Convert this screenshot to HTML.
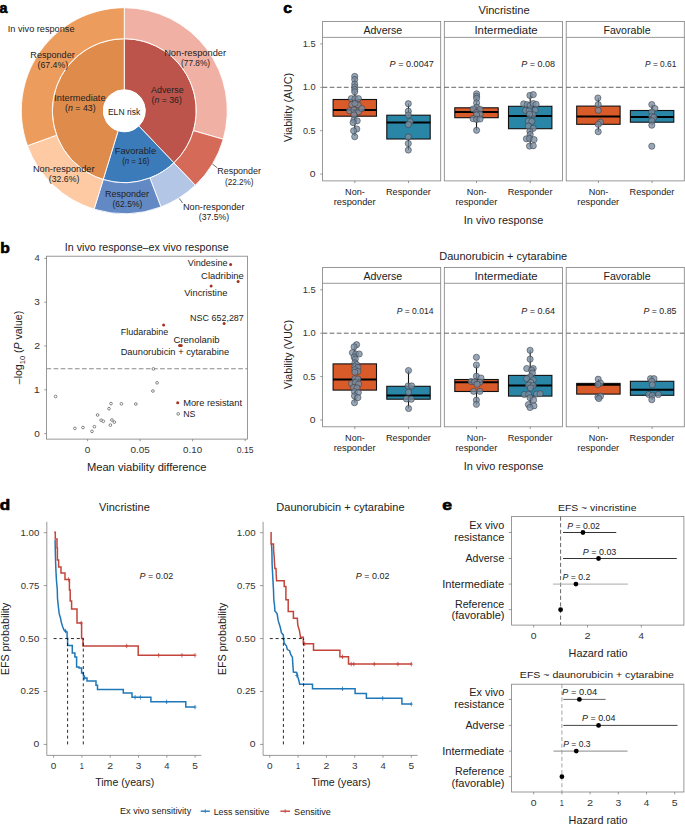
<!DOCTYPE html>
<html><head><meta charset="utf-8"><style>
html,body{margin:0;padding:0;background:#fff;overflow:hidden;width:685px;height:826px;}
svg{display:block;font-family:"Liberation Sans",sans-serif;}
</style></head><body>
<svg width="685" height="826" viewBox="0 0 685 826" fill="#222">
<path d="M124.30,38.70 A72,72 0 0 1 173.93,162.86 L138.78,125.91 A21,21 0 0 0 124.30,89.70 Z" fill="#bd544b" stroke="#fff" stroke-width="0.9" stroke-linejoin="round"/>
<path d="M173.93,162.86 A72,72 0 0 1 103.19,179.53 L118.14,130.78 A21,21 0 0 0 138.78,125.91 Z" fill="#3b7bb9" stroke="#fff" stroke-width="0.9" stroke-linejoin="round"/>
<path d="M103.19,179.53 A72,72 0 0 1 124.30,38.70 L124.30,89.70 A21,21 0 0 0 118.14,130.78 Z" fill="#df8b4b" stroke="#fff" stroke-width="0.9" stroke-linejoin="round"/>
<path d="M124.30,7.70 A103,103 0 0 1 223.26,139.27 L193.47,130.67 A72,72 0 0 0 124.30,38.70 Z" fill="#f0b1a4" stroke="#fff" stroke-width="0.9" stroke-linejoin="round"/>
<path d="M223.26,139.27 A103,103 0 0 1 195.30,185.32 L173.93,162.86 A72,72 0 0 0 193.47,130.67 Z" fill="#d46a57" stroke="#fff" stroke-width="0.9" stroke-linejoin="round"/>
<path d="M195.30,185.32 A103,103 0 0 1 160.95,206.96 L149.92,177.99 A72,72 0 0 0 173.93,162.86 Z" fill="#b3c6e6" stroke="#fff" stroke-width="0.9" stroke-linejoin="round"/>
<path d="M160.95,206.96 A103,103 0 0 1 94.10,209.17 L103.19,179.53 A72,72 0 0 0 149.92,177.99 Z" fill="#6389c5" stroke="#fff" stroke-width="0.9" stroke-linejoin="round"/>
<path d="M94.10,209.17 A103,103 0 0 1 27.45,145.75 L56.60,135.20 A72,72 0 0 0 103.19,179.53 Z" fill="#fdcaa3" stroke="#fff" stroke-width="0.9" stroke-linejoin="round"/>
<path d="M27.45,145.75 A103,103 0 0 1 124.30,7.70 L124.30,38.70 A72,72 0 0 0 56.60,135.20 Z" fill="#ec9d5e" stroke="#fff" stroke-width="0.9" stroke-linejoin="round"/>
<circle cx="124.3" cy="110.7" r="21" fill="#fff"/>
<text x="-0.43" y="13.00" font-size="14.5" textLength="8.00" lengthAdjust="spacingAndGlyphs" fill="#000" font-weight="bold" stroke="#000" stroke-width="0.6" stroke-linejoin="round">a</text>
<text x="7.78" y="31.90" font-size="9.2" textLength="66.71" lengthAdjust="spacingAndGlyphs">In vivo response</text>
<text x="30.38" y="58.00" font-size="8.4" textLength="44.34" lengthAdjust="spacingAndGlyphs">Responder</text>
<text x="37.58" y="68.00" font-size="8.4" textLength="30.56" lengthAdjust="spacingAndGlyphs">(67.4%)</text>
<text x="164.16" y="55.80" font-size="8.4" textLength="61.94" lengthAdjust="spacingAndGlyphs">Non-responder</text>
<text x="181.10" y="65.90" font-size="8.4" textLength="29.01" lengthAdjust="spacingAndGlyphs">(77.8%)</text>
<text x="54.27" y="101.30" font-size="8.4" textLength="51.29" lengthAdjust="spacingAndGlyphs">Intermediate</text>
<text x="65.07" y="111.30" font-size="8.4" textLength="30.59" lengthAdjust="spacingAndGlyphs">(<tspan font-style="italic">n</tspan> = 43)</text>
<text x="151.00" y="93.00" font-size="8.4" textLength="32.69" lengthAdjust="spacingAndGlyphs">Adverse</text>
<text x="151.58" y="103.00" font-size="8.4" textLength="30.28" lengthAdjust="spacingAndGlyphs">(<tspan font-style="italic">n</tspan> = 36)</text>
<text x="107.91" y="114.50" font-size="8.4" textLength="32.37" lengthAdjust="spacingAndGlyphs">ELN risk</text>
<text x="114.76" y="154.20" font-size="8.4" textLength="41.33" lengthAdjust="spacingAndGlyphs">Favorable</text>
<text x="122.13" y="164.10" font-size="8.4" textLength="27.38" lengthAdjust="spacingAndGlyphs">(<tspan font-style="italic">n</tspan> = 16)</text>
<text x="32.96" y="171.70" font-size="8.4" textLength="61.54" lengthAdjust="spacingAndGlyphs">Non-responder</text>
<text x="48.88" y="181.60" font-size="8.4" textLength="30.46" lengthAdjust="spacingAndGlyphs">(32.6%)</text>
<text x="105.08" y="196.90" font-size="8.4" textLength="44.03" lengthAdjust="spacingAndGlyphs">Responder</text>
<text x="112.49" y="207.00" font-size="8.4" textLength="29.84" lengthAdjust="spacingAndGlyphs">(62.5%)</text>
<text x="217.28" y="173.90" font-size="8.4" textLength="43.72" lengthAdjust="spacingAndGlyphs">Responder</text>
<text x="225.01" y="184.60" font-size="8.4" textLength="28.59" lengthAdjust="spacingAndGlyphs">(22.2%)</text>
<text x="182.96" y="209.90" font-size="8.4" textLength="61.54" lengthAdjust="spacingAndGlyphs">Non-responder</text>
<text x="198.88" y="220.40" font-size="8.4" textLength="30.25" lengthAdjust="spacingAndGlyphs">(37.5%)</text>
<line x1="212.30" y1="163.90" x2="217.20" y2="167.80" stroke="#333" stroke-width="0.7"/>
<line x1="179.20" y1="198.40" x2="182.60" y2="203.00" stroke="#333" stroke-width="0.7"/>
<text x="0.18" y="252.70" font-size="14.5" textLength="9.56" lengthAdjust="spacingAndGlyphs" fill="#000" font-weight="bold" stroke="#000" stroke-width="0.6" stroke-linejoin="round">b</text>
<text x="64.84" y="251.10" font-size="10" textLength="163.81" lengthAdjust="spacingAndGlyphs">In vivo response–ex vivo response</text>
<rect x="46.50" y="256.20" width="201.00" height="182.90" fill="none" stroke="#7f7f7f" stroke-width="0.8"/>
<line x1="44.30" y1="433.60" x2="46.50" y2="433.60" stroke="#7f7f7f" stroke-width="0.8"/>
<text x="34.30" y="436.60" font-size="8.6" textLength="5.56" lengthAdjust="spacingAndGlyphs" fill="#333">0</text>
<line x1="44.30" y1="389.80" x2="46.50" y2="389.80" stroke="#7f7f7f" stroke-width="0.8"/>
<text x="33.87" y="392.80" font-size="8.6" textLength="6.14" lengthAdjust="spacingAndGlyphs" fill="#333">1</text>
<line x1="44.30" y1="346.00" x2="46.50" y2="346.00" stroke="#7f7f7f" stroke-width="0.8"/>
<text x="34.17" y="349.00" font-size="8.6" textLength="5.87" lengthAdjust="spacingAndGlyphs" fill="#333">2</text>
<line x1="44.30" y1="302.20" x2="46.50" y2="302.20" stroke="#7f7f7f" stroke-width="0.8"/>
<text x="34.35" y="305.20" font-size="8.6" textLength="5.56" lengthAdjust="spacingAndGlyphs" fill="#333">3</text>
<line x1="44.30" y1="258.40" x2="46.50" y2="258.40" stroke="#7f7f7f" stroke-width="0.8"/>
<text x="34.51" y="261.40" font-size="8.6" textLength="5.23" lengthAdjust="spacingAndGlyphs" fill="#333">4</text>
<line x1="87.60" y1="439.10" x2="87.60" y2="441.30" stroke="#7f7f7f" stroke-width="0.8"/>
<text x="84.80" y="453.00" font-size="8.6" textLength="5.56" lengthAdjust="spacingAndGlyphs" fill="#333">0</text>
<line x1="140.10" y1="439.10" x2="140.10" y2="441.30" stroke="#7f7f7f" stroke-width="0.8"/>
<text x="130.40" y="453.00" font-size="8.6" textLength="19.41" lengthAdjust="spacingAndGlyphs" fill="#333">0.05</text>
<line x1="192.60" y1="439.10" x2="192.60" y2="441.30" stroke="#7f7f7f" stroke-width="0.8"/>
<text x="183.11" y="453.00" font-size="8.6" textLength="18.94" lengthAdjust="spacingAndGlyphs" fill="#333">0.10</text>
<line x1="245.10" y1="439.10" x2="245.10" y2="441.30" stroke="#7f7f7f" stroke-width="0.8"/>
<text x="236.70" y="453.00" font-size="8.6" textLength="16.80" lengthAdjust="spacingAndGlyphs" fill="#333">0.15</text>
<text x="86.91" y="471.00" font-size="10.5" textLength="119.54" lengthAdjust="spacingAndGlyphs">Mean viability difference</text>
<text x="22.00" y="384.20" font-size="10.4" textLength="73.34" lengthAdjust="spacingAndGlyphs" transform="rotate(-90 22.00 384.20)">–log<tspan font-size="7.49" dy="2.6">10</tspan><tspan dy="-2.6"> (</tspan><tspan font-style="italic">P</tspan> value)</text>
<line x1="46.50" y1="368.80" x2="247.50" y2="368.80" stroke="#8a8a8a" stroke-width="1.1" stroke-dasharray="4.7,2.4"/>
<circle cx="55.6" cy="396.5" r="1.35" fill="#fff" stroke="#555" stroke-width="0.7"/>
<circle cx="74.9" cy="428.4" r="1.35" fill="#fff" stroke="#555" stroke-width="0.7"/>
<circle cx="83" cy="427.5" r="1.35" fill="#fff" stroke="#555" stroke-width="0.7"/>
<circle cx="92" cy="431.4" r="1.35" fill="#fff" stroke="#555" stroke-width="0.7"/>
<circle cx="94.4" cy="426.7" r="1.35" fill="#fff" stroke="#555" stroke-width="0.7"/>
<circle cx="97.6" cy="415" r="1.35" fill="#fff" stroke="#555" stroke-width="0.7"/>
<circle cx="101.1" cy="420.2" r="1.35" fill="#fff" stroke="#555" stroke-width="0.7"/>
<circle cx="103.3" cy="421.3" r="1.35" fill="#fff" stroke="#555" stroke-width="0.7"/>
<circle cx="109" cy="408.7" r="1.35" fill="#fff" stroke="#555" stroke-width="0.7"/>
<circle cx="111" cy="403.6" r="1.35" fill="#fff" stroke="#555" stroke-width="0.7"/>
<circle cx="110.4" cy="425.1" r="1.35" fill="#fff" stroke="#555" stroke-width="0.7"/>
<circle cx="111.9" cy="420" r="1.35" fill="#fff" stroke="#555" stroke-width="0.7"/>
<circle cx="114.3" cy="422.1" r="1.35" fill="#fff" stroke="#555" stroke-width="0.7"/>
<circle cx="121.4" cy="403.8" r="1.35" fill="#fff" stroke="#555" stroke-width="0.7"/>
<circle cx="135.8" cy="404" r="1.35" fill="#fff" stroke="#555" stroke-width="0.7"/>
<circle cx="152.9" cy="391" r="1.35" fill="#fff" stroke="#555" stroke-width="0.7"/>
<circle cx="157.1" cy="382.8" r="1.35" fill="#fff" stroke="#555" stroke-width="0.7"/>
<circle cx="153.4" cy="368.9" r="1.35" fill="#fff" stroke="#555" stroke-width="0.7"/>
<circle cx="230.6" cy="264.4" r="1.5" fill="#a3321d"/>
<circle cx="238.1" cy="281.5" r="1.5" fill="#a3321d"/>
<circle cx="211.1" cy="285.9" r="1.5" fill="#a3321d"/>
<circle cx="224.1" cy="323.5" r="1.5" fill="#a3321d"/>
<circle cx="163.6" cy="325.1" r="1.5" fill="#a3321d"/>
<circle cx="179.6" cy="345.4" r="1.5" fill="#a3321d"/>
<circle cx="181.2" cy="345.4" r="1.5" fill="#a3321d"/>
<text x="187.75" y="265.80" font-size="9.0" textLength="39.80" lengthAdjust="spacingAndGlyphs">Vindesine</text>
<text x="201.13" y="279.00" font-size="9.0" textLength="42.68" lengthAdjust="spacingAndGlyphs">Cladribine</text>
<text x="184.25" y="295.70" font-size="9.0" textLength="43.12" lengthAdjust="spacingAndGlyphs">Vincristine</text>
<text x="190.08" y="320.60" font-size="9.0" textLength="53.76" lengthAdjust="spacingAndGlyphs">NSC 652,287</text>
<text x="120.68" y="334.70" font-size="9.0" textLength="47.59" lengthAdjust="spacingAndGlyphs">Fludarabine</text>
<text x="173.52" y="342.60" font-size="9.0" textLength="46.07" lengthAdjust="spacingAndGlyphs">Crenolanib</text>
<text x="120.65" y="355.40" font-size="9.0" textLength="108.53" lengthAdjust="spacingAndGlyphs">Daunorubicin + cytarabine</text>
<circle cx="177.7" cy="402.7" r="1.5" fill="#a3321d"/>
<circle cx="178.2" cy="413.9" r="1.35" fill="#fff" stroke="#555" stroke-width="0.7"/>
<text x="183.16" y="406.30" font-size="9.0" textLength="58.90" lengthAdjust="spacingAndGlyphs">More resistant</text>
<text x="183.20" y="416.80" font-size="9.0" textLength="12.24" lengthAdjust="spacingAndGlyphs">NS</text>
<text x="478.44" y="13.90" font-size="10.2" textLength="51.20" lengthAdjust="spacingAndGlyphs">Vincristine</text>
<rect x="322.60" y="21.50" width="118.10" height="159.40" fill="none" stroke="#7f7f7f" stroke-width="0.8"/>
<line x1="322.60" y1="37.40" x2="440.70" y2="37.40" stroke="#7f7f7f" stroke-width="0.8"/>
<text x="363.40" y="33.90" font-size="10.1" textLength="38.86" lengthAdjust="spacingAndGlyphs">Adverse</text>
<line x1="322.60" y1="87.30" x2="440.70" y2="87.30" stroke="#666" stroke-width="1.0" stroke-dasharray="4.7,2.4"/>
<text x="389.63" y="66.80" font-size="8.6" textLength="44.23" lengthAdjust="spacingAndGlyphs"><tspan font-style="italic">P</tspan> = 0.0047</text>
<line x1="354.80" y1="180.90" x2="354.80" y2="183.10" stroke="#7f7f7f" stroke-width="0.8"/>
<line x1="354.80" y1="76.10" x2="354.80" y2="99.50" stroke="#111" stroke-width="1.1"/>
<line x1="354.80" y1="116.20" x2="354.80" y2="135.90" stroke="#111" stroke-width="1.1"/>
<rect x="333.10" y="99.50" width="43.4" height="16.70" fill="#d95b2a" stroke="#111" stroke-width="1.1"/>
<line x1="333.10" y1="110.10" x2="376.50" y2="110.10" stroke="#000" stroke-width="2.0"/>
<circle cx="354.70" cy="76.40" r="3.1" fill="#7b8ea3" fill-opacity="0.78" stroke="#333a42" stroke-width="0.55"/>
<circle cx="354.70" cy="79.50" r="3.1" fill="#7b8ea3" fill-opacity="0.78" stroke="#333a42" stroke-width="0.55"/>
<circle cx="354.70" cy="84.10" r="3.1" fill="#7b8ea3" fill-opacity="0.78" stroke="#333a42" stroke-width="0.55"/>
<circle cx="354.70" cy="87.00" r="3.1" fill="#7b8ea3" fill-opacity="0.78" stroke="#333a42" stroke-width="0.55"/>
<circle cx="354.70" cy="89.50" r="3.1" fill="#7b8ea3" fill-opacity="0.78" stroke="#333a42" stroke-width="0.55"/>
<circle cx="354.70" cy="91.80" r="3.1" fill="#7b8ea3" fill-opacity="0.78" stroke="#333a42" stroke-width="0.55"/>
<circle cx="351.30" cy="98.60" r="3.1" fill="#7b8ea3" fill-opacity="0.78" stroke="#333a42" stroke-width="0.55"/>
<circle cx="355.00" cy="98.60" r="3.1" fill="#7b8ea3" fill-opacity="0.78" stroke="#333a42" stroke-width="0.55"/>
<circle cx="358.40" cy="98.60" r="3.1" fill="#7b8ea3" fill-opacity="0.78" stroke="#333a42" stroke-width="0.55"/>
<circle cx="351.80" cy="104.50" r="3.1" fill="#7b8ea3" fill-opacity="0.78" stroke="#333a42" stroke-width="0.55"/>
<circle cx="358.10" cy="104.90" r="3.1" fill="#7b8ea3" fill-opacity="0.78" stroke="#333a42" stroke-width="0.55"/>
<circle cx="355.00" cy="103.50" r="3.1" fill="#7b8ea3" fill-opacity="0.78" stroke="#333a42" stroke-width="0.55"/>
<circle cx="349.50" cy="110.80" r="3.1" fill="#7b8ea3" fill-opacity="0.78" stroke="#333a42" stroke-width="0.55"/>
<circle cx="354.00" cy="109.90" r="3.1" fill="#7b8ea3" fill-opacity="0.78" stroke="#333a42" stroke-width="0.55"/>
<circle cx="358.60" cy="111.70" r="3.1" fill="#7b8ea3" fill-opacity="0.78" stroke="#333a42" stroke-width="0.55"/>
<circle cx="361.80" cy="108.60" r="3.1" fill="#7b8ea3" fill-opacity="0.78" stroke="#333a42" stroke-width="0.55"/>
<circle cx="354.00" cy="114.90" r="3.1" fill="#7b8ea3" fill-opacity="0.78" stroke="#333a42" stroke-width="0.55"/>
<circle cx="354.00" cy="119.90" r="3.1" fill="#7b8ea3" fill-opacity="0.78" stroke="#333a42" stroke-width="0.55"/>
<circle cx="357.20" cy="120.80" r="3.1" fill="#7b8ea3" fill-opacity="0.78" stroke="#333a42" stroke-width="0.55"/>
<circle cx="353.10" cy="122.60" r="3.1" fill="#7b8ea3" fill-opacity="0.78" stroke="#333a42" stroke-width="0.55"/>
<circle cx="356.80" cy="129.00" r="3.1" fill="#7b8ea3" fill-opacity="0.78" stroke="#333a42" stroke-width="0.55"/>
<circle cx="353.60" cy="130.80" r="3.1" fill="#7b8ea3" fill-opacity="0.78" stroke="#333a42" stroke-width="0.55"/>
<circle cx="354.70" cy="136.70" r="3.1" fill="#7b8ea3" fill-opacity="0.78" stroke="#333a42" stroke-width="0.55"/>
<line x1="408.50" y1="180.90" x2="408.50" y2="183.10" stroke="#7f7f7f" stroke-width="0.8"/>
<line x1="408.50" y1="103.60" x2="408.50" y2="115.20" stroke="#111" stroke-width="1.1"/>
<line x1="408.50" y1="139.00" x2="408.50" y2="150.00" stroke="#111" stroke-width="1.1"/>
<rect x="386.80" y="115.20" width="43.4" height="23.80" fill="#2a86a6" stroke="#111" stroke-width="1.1"/>
<line x1="386.80" y1="122.60" x2="430.20" y2="122.60" stroke="#000" stroke-width="2.0"/>
<circle cx="408.30" cy="103.70" r="3.1" fill="#7b8ea3" fill-opacity="0.78" stroke="#333a42" stroke-width="0.55"/>
<circle cx="408.30" cy="111.20" r="3.1" fill="#7b8ea3" fill-opacity="0.78" stroke="#333a42" stroke-width="0.55"/>
<circle cx="408.30" cy="115.00" r="3.1" fill="#7b8ea3" fill-opacity="0.78" stroke="#333a42" stroke-width="0.55"/>
<circle cx="410.10" cy="121.70" r="3.1" fill="#7b8ea3" fill-opacity="0.78" stroke="#333a42" stroke-width="0.55"/>
<circle cx="408.30" cy="124.50" r="3.1" fill="#7b8ea3" fill-opacity="0.78" stroke="#333a42" stroke-width="0.55"/>
<circle cx="408.30" cy="136.90" r="3.1" fill="#7b8ea3" fill-opacity="0.78" stroke="#333a42" stroke-width="0.55"/>
<circle cx="408.30" cy="143.50" r="3.1" fill="#7b8ea3" fill-opacity="0.78" stroke="#333a42" stroke-width="0.55"/>
<circle cx="408.30" cy="150.10" r="3.1" fill="#7b8ea3" fill-opacity="0.78" stroke="#333a42" stroke-width="0.55"/>
<text x="345.07" y="195.20" font-size="8.8" textLength="19.71" lengthAdjust="spacingAndGlyphs">Non-</text>
<text x="333.75" y="204.80" font-size="8.8" textLength="41.83" lengthAdjust="spacingAndGlyphs">responder</text>
<text x="385.97" y="195.00" font-size="8.8" textLength="44.85" lengthAdjust="spacingAndGlyphs">Responder</text>
<rect x="444.30" y="21.50" width="118.10" height="159.40" fill="none" stroke="#7f7f7f" stroke-width="0.8"/>
<line x1="444.30" y1="37.40" x2="562.40" y2="37.40" stroke="#7f7f7f" stroke-width="0.8"/>
<text x="474.48" y="33.90" font-size="10.1" textLength="63.16" lengthAdjust="spacingAndGlyphs">Intermediate</text>
<line x1="444.30" y1="87.30" x2="562.40" y2="87.30" stroke="#666" stroke-width="1.0" stroke-dasharray="4.7,2.4"/>
<text x="521.33" y="66.80" font-size="8.6" textLength="33.76" lengthAdjust="spacingAndGlyphs"><tspan font-style="italic">P</tspan> = 0.08</text>
<line x1="476.50" y1="180.90" x2="476.50" y2="183.10" stroke="#7f7f7f" stroke-width="0.8"/>
<line x1="476.50" y1="93.80" x2="476.50" y2="107.80" stroke="#111" stroke-width="1.1"/>
<line x1="476.50" y1="117.70" x2="476.50" y2="130.30" stroke="#111" stroke-width="1.1"/>
<rect x="454.80" y="107.80" width="43.4" height="9.90" fill="#d95b2a" stroke="#111" stroke-width="1.1"/>
<line x1="454.80" y1="112.00" x2="498.20" y2="112.00" stroke="#000" stroke-width="2.0"/>
<circle cx="476.60" cy="93.80" r="3.1" fill="#7b8ea3" fill-opacity="0.78" stroke="#333a42" stroke-width="0.55"/>
<circle cx="476.60" cy="96.20" r="3.1" fill="#7b8ea3" fill-opacity="0.78" stroke="#333a42" stroke-width="0.55"/>
<circle cx="476.60" cy="98.40" r="3.1" fill="#7b8ea3" fill-opacity="0.78" stroke="#333a42" stroke-width="0.55"/>
<circle cx="476.60" cy="102.90" r="3.1" fill="#7b8ea3" fill-opacity="0.78" stroke="#333a42" stroke-width="0.55"/>
<circle cx="476.60" cy="107.30" r="3.1" fill="#7b8ea3" fill-opacity="0.78" stroke="#333a42" stroke-width="0.55"/>
<circle cx="473.10" cy="109.00" r="3.1" fill="#7b8ea3" fill-opacity="0.78" stroke="#333a42" stroke-width="0.55"/>
<circle cx="480.10" cy="109.30" r="3.1" fill="#7b8ea3" fill-opacity="0.78" stroke="#333a42" stroke-width="0.55"/>
<circle cx="476.60" cy="112.50" r="3.1" fill="#7b8ea3" fill-opacity="0.78" stroke="#333a42" stroke-width="0.55"/>
<circle cx="480.10" cy="114.30" r="3.1" fill="#7b8ea3" fill-opacity="0.78" stroke="#333a42" stroke-width="0.55"/>
<circle cx="476.60" cy="114.90" r="3.1" fill="#7b8ea3" fill-opacity="0.78" stroke="#333a42" stroke-width="0.55"/>
<circle cx="473.10" cy="118.70" r="3.1" fill="#7b8ea3" fill-opacity="0.78" stroke="#333a42" stroke-width="0.55"/>
<circle cx="476.60" cy="119.50" r="3.1" fill="#7b8ea3" fill-opacity="0.78" stroke="#333a42" stroke-width="0.55"/>
<circle cx="480.10" cy="119.00" r="3.1" fill="#7b8ea3" fill-opacity="0.78" stroke="#333a42" stroke-width="0.55"/>
<circle cx="476.60" cy="130.30" r="3.1" fill="#7b8ea3" fill-opacity="0.78" stroke="#333a42" stroke-width="0.55"/>
<line x1="530.20" y1="180.90" x2="530.20" y2="183.10" stroke="#7f7f7f" stroke-width="0.8"/>
<line x1="530.20" y1="95.40" x2="530.20" y2="106.30" stroke="#111" stroke-width="1.1"/>
<line x1="530.20" y1="128.70" x2="530.20" y2="146.10" stroke="#111" stroke-width="1.1"/>
<rect x="508.50" y="106.30" width="43.4" height="22.40" fill="#2a86a6" stroke="#111" stroke-width="1.1"/>
<line x1="508.50" y1="115.90" x2="551.90" y2="115.90" stroke="#000" stroke-width="2.0"/>
<circle cx="529.90" cy="95.40" r="3.1" fill="#7b8ea3" fill-opacity="0.78" stroke="#333a42" stroke-width="0.55"/>
<circle cx="533.30" cy="94.60" r="3.1" fill="#7b8ea3" fill-opacity="0.78" stroke="#333a42" stroke-width="0.55"/>
<circle cx="523.70" cy="103.90" r="3.1" fill="#7b8ea3" fill-opacity="0.78" stroke="#333a42" stroke-width="0.55"/>
<circle cx="527.10" cy="104.70" r="3.1" fill="#7b8ea3" fill-opacity="0.78" stroke="#333a42" stroke-width="0.55"/>
<circle cx="530.20" cy="105.40" r="3.1" fill="#7b8ea3" fill-opacity="0.78" stroke="#333a42" stroke-width="0.55"/>
<circle cx="533.20" cy="103.50" r="3.1" fill="#7b8ea3" fill-opacity="0.78" stroke="#333a42" stroke-width="0.55"/>
<circle cx="536.10" cy="104.30" r="3.1" fill="#7b8ea3" fill-opacity="0.78" stroke="#333a42" stroke-width="0.55"/>
<circle cx="525.60" cy="110.50" r="3.1" fill="#7b8ea3" fill-opacity="0.78" stroke="#333a42" stroke-width="0.55"/>
<circle cx="529.10" cy="110.90" r="3.1" fill="#7b8ea3" fill-opacity="0.78" stroke="#333a42" stroke-width="0.55"/>
<circle cx="535.30" cy="110.10" r="3.1" fill="#7b8ea3" fill-opacity="0.78" stroke="#333a42" stroke-width="0.55"/>
<circle cx="533.00" cy="114.70" r="3.1" fill="#7b8ea3" fill-opacity="0.78" stroke="#333a42" stroke-width="0.55"/>
<circle cx="529.50" cy="114.20" r="3.1" fill="#7b8ea3" fill-opacity="0.78" stroke="#333a42" stroke-width="0.55"/>
<circle cx="528.30" cy="121.00" r="3.1" fill="#7b8ea3" fill-opacity="0.78" stroke="#333a42" stroke-width="0.55"/>
<circle cx="531.80" cy="121.30" r="3.1" fill="#7b8ea3" fill-opacity="0.78" stroke="#333a42" stroke-width="0.55"/>
<circle cx="528.30" cy="126.00" r="3.1" fill="#7b8ea3" fill-opacity="0.78" stroke="#333a42" stroke-width="0.55"/>
<circle cx="533.30" cy="128.30" r="3.1" fill="#7b8ea3" fill-opacity="0.78" stroke="#333a42" stroke-width="0.55"/>
<circle cx="529.90" cy="131.40" r="3.1" fill="#7b8ea3" fill-opacity="0.78" stroke="#333a42" stroke-width="0.55"/>
<circle cx="530.20" cy="134.50" r="3.1" fill="#7b8ea3" fill-opacity="0.78" stroke="#333a42" stroke-width="0.55"/>
<circle cx="526.40" cy="138.80" r="3.1" fill="#7b8ea3" fill-opacity="0.78" stroke="#333a42" stroke-width="0.55"/>
<circle cx="529.50" cy="138.40" r="3.1" fill="#7b8ea3" fill-opacity="0.78" stroke="#333a42" stroke-width="0.55"/>
<circle cx="534.10" cy="139.60" r="3.1" fill="#7b8ea3" fill-opacity="0.78" stroke="#333a42" stroke-width="0.55"/>
<circle cx="529.50" cy="146.10" r="3.1" fill="#7b8ea3" fill-opacity="0.78" stroke="#333a42" stroke-width="0.55"/>
<circle cx="533.30" cy="145.80" r="3.1" fill="#7b8ea3" fill-opacity="0.78" stroke="#333a42" stroke-width="0.55"/>
<text x="466.77" y="195.20" font-size="8.8" textLength="19.71" lengthAdjust="spacingAndGlyphs">Non-</text>
<text x="455.45" y="204.80" font-size="8.8" textLength="41.83" lengthAdjust="spacingAndGlyphs">responder</text>
<text x="507.67" y="195.00" font-size="8.8" textLength="44.85" lengthAdjust="spacingAndGlyphs">Responder</text>
<rect x="566.20" y="21.50" width="118.10" height="159.40" fill="none" stroke="#7f7f7f" stroke-width="0.8"/>
<line x1="566.20" y1="37.40" x2="684.30" y2="37.40" stroke="#7f7f7f" stroke-width="0.8"/>
<text x="603.45" y="33.90" font-size="10.1" textLength="47.19" lengthAdjust="spacingAndGlyphs">Favorable</text>
<line x1="566.20" y1="87.30" x2="684.30" y2="87.30" stroke="#666" stroke-width="1.0" stroke-dasharray="4.7,2.4"/>
<text x="645.05" y="66.80" font-size="8.6" textLength="31.25" lengthAdjust="spacingAndGlyphs"><tspan font-style="italic">P</tspan> = 0.61</text>
<line x1="598.40" y1="180.90" x2="598.40" y2="183.10" stroke="#7f7f7f" stroke-width="0.8"/>
<line x1="598.40" y1="98.00" x2="598.40" y2="106.10" stroke="#111" stroke-width="1.1"/>
<line x1="598.40" y1="124.30" x2="598.40" y2="131.70" stroke="#111" stroke-width="1.1"/>
<rect x="576.70" y="106.10" width="43.4" height="18.20" fill="#d95b2a" stroke="#111" stroke-width="1.1"/>
<line x1="576.70" y1="116.40" x2="620.10" y2="116.40" stroke="#000" stroke-width="2.0"/>
<circle cx="597.90" cy="98.00" r="3.1" fill="#7b8ea3" fill-opacity="0.78" stroke="#333a42" stroke-width="0.55"/>
<circle cx="598.20" cy="104.50" r="3.1" fill="#7b8ea3" fill-opacity="0.78" stroke="#333a42" stroke-width="0.55"/>
<circle cx="598.20" cy="110.30" r="3.1" fill="#7b8ea3" fill-opacity="0.78" stroke="#333a42" stroke-width="0.55"/>
<circle cx="600.50" cy="122.20" r="3.1" fill="#7b8ea3" fill-opacity="0.78" stroke="#333a42" stroke-width="0.55"/>
<circle cx="598.20" cy="124.30" r="3.1" fill="#7b8ea3" fill-opacity="0.78" stroke="#333a42" stroke-width="0.55"/>
<circle cx="598.20" cy="131.70" r="3.1" fill="#7b8ea3" fill-opacity="0.78" stroke="#333a42" stroke-width="0.55"/>
<line x1="652.10" y1="180.90" x2="652.10" y2="183.10" stroke="#7f7f7f" stroke-width="0.8"/>
<line x1="652.10" y1="104.50" x2="652.10" y2="110.50" stroke="#111" stroke-width="1.1"/>
<line x1="652.10" y1="122.20" x2="652.10" y2="125.20" stroke="#111" stroke-width="1.1"/>
<rect x="630.40" y="110.50" width="43.4" height="11.70" fill="#2a86a6" stroke="#111" stroke-width="1.1"/>
<line x1="630.40" y1="117.00" x2="673.80" y2="117.00" stroke="#000" stroke-width="2.0"/>
<circle cx="651.80" cy="104.50" r="3.1" fill="#7b8ea3" fill-opacity="0.78" stroke="#333a42" stroke-width="0.55"/>
<circle cx="654.90" cy="108.50" r="3.1" fill="#7b8ea3" fill-opacity="0.78" stroke="#333a42" stroke-width="0.55"/>
<circle cx="651.80" cy="112.00" r="3.1" fill="#7b8ea3" fill-opacity="0.78" stroke="#333a42" stroke-width="0.55"/>
<circle cx="651.80" cy="116.40" r="3.1" fill="#7b8ea3" fill-opacity="0.78" stroke="#333a42" stroke-width="0.55"/>
<circle cx="654.00" cy="117.30" r="3.1" fill="#7b8ea3" fill-opacity="0.78" stroke="#333a42" stroke-width="0.55"/>
<circle cx="651.80" cy="120.80" r="3.1" fill="#7b8ea3" fill-opacity="0.78" stroke="#333a42" stroke-width="0.55"/>
<circle cx="651.80" cy="125.20" r="3.1" fill="#7b8ea3" fill-opacity="0.78" stroke="#333a42" stroke-width="0.55"/>
<circle cx="651.80" cy="146.20" r="3.1" fill="#7b8ea3" fill-opacity="0.78" stroke="#333a42" stroke-width="0.55"/>
<text x="588.67" y="195.20" font-size="8.8" textLength="19.71" lengthAdjust="spacingAndGlyphs">Non-</text>
<text x="577.35" y="204.80" font-size="8.8" textLength="41.83" lengthAdjust="spacingAndGlyphs">responder</text>
<text x="629.57" y="195.00" font-size="8.8" textLength="44.85" lengthAdjust="spacingAndGlyphs">Responder</text>
<line x1="320.20" y1="174.10" x2="322.60" y2="174.10" stroke="#7f7f7f" stroke-width="0.8"/>
<text x="309.88" y="177.10" font-size="8.6" textLength="5.79" lengthAdjust="spacingAndGlyphs" fill="#333">0</text>
<line x1="320.20" y1="130.70" x2="322.60" y2="130.70" stroke="#7f7f7f" stroke-width="0.8"/>
<text x="303.04" y="133.70" font-size="8.6" textLength="12.63" lengthAdjust="spacingAndGlyphs" fill="#333">0.5</text>
<line x1="320.20" y1="87.30" x2="322.60" y2="87.30" stroke="#7f7f7f" stroke-width="0.8"/>
<text x="302.70" y="90.30" font-size="8.6" textLength="12.92" lengthAdjust="spacingAndGlyphs" fill="#333">1.0</text>
<line x1="320.20" y1="43.90" x2="322.60" y2="43.90" stroke="#7f7f7f" stroke-width="0.8"/>
<text x="302.70" y="46.90" font-size="8.6" textLength="12.97" lengthAdjust="spacingAndGlyphs" fill="#333">1.5</text>
<text x="463.82" y="223.90" font-size="10" textLength="79.44" lengthAdjust="spacingAndGlyphs">In vivo response</text>
<text x="292.15" y="141.95" font-size="10.0" textLength="69.03" lengthAdjust="spacingAndGlyphs" transform="rotate(-90 292.20 141.95)">Viability (AUC)</text>
<text x="439.32" y="259.80" font-size="10.2" textLength="127.93" lengthAdjust="spacingAndGlyphs">Daunorubicin + cytarabine</text>
<rect x="322.60" y="267.40" width="118.10" height="159.40" fill="none" stroke="#7f7f7f" stroke-width="0.8"/>
<line x1="322.60" y1="283.30" x2="440.70" y2="283.30" stroke="#7f7f7f" stroke-width="0.8"/>
<text x="363.40" y="280.30" font-size="10.1" textLength="38.86" lengthAdjust="spacingAndGlyphs">Adverse</text>
<line x1="322.60" y1="333.20" x2="440.70" y2="333.20" stroke="#666" stroke-width="1.0" stroke-dasharray="4.7,2.4"/>
<text x="396.64" y="314.00" font-size="8.6" textLength="36.76" lengthAdjust="spacingAndGlyphs"><tspan font-style="italic">P</tspan> = 0.014</text>
<line x1="354.80" y1="426.80" x2="354.80" y2="429.00" stroke="#7f7f7f" stroke-width="0.8"/>
<line x1="354.80" y1="344.70" x2="354.80" y2="363.90" stroke="#111" stroke-width="1.1"/>
<line x1="354.80" y1="390.10" x2="354.80" y2="402.70" stroke="#111" stroke-width="1.1"/>
<rect x="333.10" y="363.90" width="43.4" height="26.20" fill="#d95b2a" stroke="#111" stroke-width="1.1"/>
<line x1="333.10" y1="379.50" x2="376.50" y2="379.50" stroke="#000" stroke-width="2.0"/>
<circle cx="356.60" cy="344.70" r="3.1" fill="#7b8ea3" fill-opacity="0.78" stroke="#333a42" stroke-width="0.55"/>
<circle cx="354.10" cy="346.80" r="3.1" fill="#7b8ea3" fill-opacity="0.78" stroke="#333a42" stroke-width="0.55"/>
<circle cx="352.40" cy="352.70" r="3.1" fill="#7b8ea3" fill-opacity="0.78" stroke="#333a42" stroke-width="0.55"/>
<circle cx="355.80" cy="354.00" r="3.1" fill="#7b8ea3" fill-opacity="0.78" stroke="#333a42" stroke-width="0.55"/>
<circle cx="359.20" cy="354.00" r="3.1" fill="#7b8ea3" fill-opacity="0.78" stroke="#333a42" stroke-width="0.55"/>
<circle cx="354.10" cy="357.00" r="3.1" fill="#7b8ea3" fill-opacity="0.78" stroke="#333a42" stroke-width="0.55"/>
<circle cx="355.30" cy="359.00" r="3.1" fill="#7b8ea3" fill-opacity="0.78" stroke="#333a42" stroke-width="0.55"/>
<circle cx="354.90" cy="362.90" r="3.1" fill="#7b8ea3" fill-opacity="0.78" stroke="#333a42" stroke-width="0.55"/>
<circle cx="356.60" cy="364.60" r="3.1" fill="#7b8ea3" fill-opacity="0.78" stroke="#333a42" stroke-width="0.55"/>
<circle cx="354.90" cy="366.70" r="3.1" fill="#7b8ea3" fill-opacity="0.78" stroke="#333a42" stroke-width="0.55"/>
<circle cx="357.90" cy="367.50" r="3.1" fill="#7b8ea3" fill-opacity="0.78" stroke="#333a42" stroke-width="0.55"/>
<circle cx="354.90" cy="369.70" r="3.1" fill="#7b8ea3" fill-opacity="0.78" stroke="#333a42" stroke-width="0.55"/>
<circle cx="357.90" cy="371.40" r="3.1" fill="#7b8ea3" fill-opacity="0.78" stroke="#333a42" stroke-width="0.55"/>
<circle cx="354.90" cy="372.20" r="3.1" fill="#7b8ea3" fill-opacity="0.78" stroke="#333a42" stroke-width="0.55"/>
<circle cx="354.90" cy="378.60" r="3.1" fill="#7b8ea3" fill-opacity="0.78" stroke="#333a42" stroke-width="0.55"/>
<circle cx="357.90" cy="379.00" r="3.1" fill="#7b8ea3" fill-opacity="0.78" stroke="#333a42" stroke-width="0.55"/>
<circle cx="351.50" cy="383.60" r="3.1" fill="#7b8ea3" fill-opacity="0.78" stroke="#333a42" stroke-width="0.55"/>
<circle cx="355.30" cy="382.40" r="3.1" fill="#7b8ea3" fill-opacity="0.78" stroke="#333a42" stroke-width="0.55"/>
<circle cx="358.70" cy="384.10" r="3.1" fill="#7b8ea3" fill-opacity="0.78" stroke="#333a42" stroke-width="0.55"/>
<circle cx="353.60" cy="387.50" r="3.1" fill="#7b8ea3" fill-opacity="0.78" stroke="#333a42" stroke-width="0.55"/>
<circle cx="357.00" cy="387.90" r="3.1" fill="#7b8ea3" fill-opacity="0.78" stroke="#333a42" stroke-width="0.55"/>
<circle cx="354.50" cy="391.70" r="3.1" fill="#7b8ea3" fill-opacity="0.78" stroke="#333a42" stroke-width="0.55"/>
<circle cx="358.30" cy="392.50" r="3.1" fill="#7b8ea3" fill-opacity="0.78" stroke="#333a42" stroke-width="0.55"/>
<circle cx="354.50" cy="395.90" r="3.1" fill="#7b8ea3" fill-opacity="0.78" stroke="#333a42" stroke-width="0.55"/>
<circle cx="357.90" cy="397.60" r="3.1" fill="#7b8ea3" fill-opacity="0.78" stroke="#333a42" stroke-width="0.55"/>
<circle cx="354.50" cy="402.70" r="3.1" fill="#7b8ea3" fill-opacity="0.78" stroke="#333a42" stroke-width="0.55"/>
<line x1="408.50" y1="426.80" x2="408.50" y2="429.00" stroke="#7f7f7f" stroke-width="0.8"/>
<line x1="408.50" y1="370.50" x2="408.50" y2="386.30" stroke="#111" stroke-width="1.1"/>
<line x1="408.50" y1="399.20" x2="408.50" y2="408.50" stroke="#111" stroke-width="1.1"/>
<rect x="386.80" y="386.30" width="43.4" height="12.90" fill="#2a86a6" stroke="#111" stroke-width="1.1"/>
<line x1="386.80" y1="395.40" x2="430.20" y2="395.40" stroke="#000" stroke-width="2.0"/>
<circle cx="408.50" cy="370.50" r="3.1" fill="#7b8ea3" fill-opacity="0.78" stroke="#333a42" stroke-width="0.55"/>
<circle cx="408.10" cy="386.00" r="3.1" fill="#7b8ea3" fill-opacity="0.78" stroke="#333a42" stroke-width="0.55"/>
<circle cx="411.60" cy="385.90" r="3.1" fill="#7b8ea3" fill-opacity="0.78" stroke="#333a42" stroke-width="0.55"/>
<circle cx="408.60" cy="392.20" r="3.1" fill="#7b8ea3" fill-opacity="0.78" stroke="#333a42" stroke-width="0.55"/>
<circle cx="406.40" cy="398.90" r="3.1" fill="#7b8ea3" fill-opacity="0.78" stroke="#333a42" stroke-width="0.55"/>
<circle cx="411.30" cy="399.20" r="3.1" fill="#7b8ea3" fill-opacity="0.78" stroke="#333a42" stroke-width="0.55"/>
<circle cx="408.60" cy="408.50" r="3.1" fill="#7b8ea3" fill-opacity="0.78" stroke="#333a42" stroke-width="0.55"/>
<text x="345.07" y="441.10" font-size="8.8" textLength="19.71" lengthAdjust="spacingAndGlyphs">Non-</text>
<text x="333.75" y="450.70" font-size="8.8" textLength="41.83" lengthAdjust="spacingAndGlyphs">responder</text>
<text x="385.97" y="440.90" font-size="8.8" textLength="44.85" lengthAdjust="spacingAndGlyphs">Responder</text>
<rect x="444.30" y="267.40" width="118.10" height="159.40" fill="none" stroke="#7f7f7f" stroke-width="0.8"/>
<line x1="444.30" y1="283.30" x2="562.40" y2="283.30" stroke="#7f7f7f" stroke-width="0.8"/>
<text x="474.48" y="280.30" font-size="10.1" textLength="63.16" lengthAdjust="spacingAndGlyphs">Intermediate</text>
<line x1="444.30" y1="333.20" x2="562.40" y2="333.20" stroke="#666" stroke-width="1.0" stroke-dasharray="4.7,2.4"/>
<text x="521.33" y="314.00" font-size="8.6" textLength="33.72" lengthAdjust="spacingAndGlyphs"><tspan font-style="italic">P</tspan> = 0.64</text>
<line x1="476.50" y1="426.80" x2="476.50" y2="429.00" stroke="#7f7f7f" stroke-width="0.8"/>
<line x1="476.50" y1="365.00" x2="476.50" y2="379.50" stroke="#111" stroke-width="1.1"/>
<line x1="476.50" y1="391.50" x2="476.50" y2="404.30" stroke="#111" stroke-width="1.1"/>
<rect x="454.80" y="379.50" width="43.4" height="12.00" fill="#d95b2a" stroke="#111" stroke-width="1.1"/>
<line x1="454.80" y1="382.30" x2="498.20" y2="382.30" stroke="#000" stroke-width="2.0"/>
<circle cx="476.40" cy="357.30" r="3.1" fill="#7b8ea3" fill-opacity="0.78" stroke="#333a42" stroke-width="0.55"/>
<circle cx="476.40" cy="365.00" r="3.1" fill="#7b8ea3" fill-opacity="0.78" stroke="#333a42" stroke-width="0.55"/>
<circle cx="476.40" cy="376.20" r="3.1" fill="#7b8ea3" fill-opacity="0.78" stroke="#333a42" stroke-width="0.55"/>
<circle cx="481.00" cy="378.00" r="3.1" fill="#7b8ea3" fill-opacity="0.78" stroke="#333a42" stroke-width="0.55"/>
<circle cx="471.10" cy="381.50" r="3.1" fill="#7b8ea3" fill-opacity="0.78" stroke="#333a42" stroke-width="0.55"/>
<circle cx="474.60" cy="381.80" r="3.1" fill="#7b8ea3" fill-opacity="0.78" stroke="#333a42" stroke-width="0.55"/>
<circle cx="479.90" cy="382.20" r="3.1" fill="#7b8ea3" fill-opacity="0.78" stroke="#333a42" stroke-width="0.55"/>
<circle cx="477.10" cy="384.30" r="3.1" fill="#7b8ea3" fill-opacity="0.78" stroke="#333a42" stroke-width="0.55"/>
<circle cx="473.60" cy="391.30" r="3.1" fill="#7b8ea3" fill-opacity="0.78" stroke="#333a42" stroke-width="0.55"/>
<circle cx="479.90" cy="391.30" r="3.1" fill="#7b8ea3" fill-opacity="0.78" stroke="#333a42" stroke-width="0.55"/>
<circle cx="476.40" cy="400.10" r="3.1" fill="#7b8ea3" fill-opacity="0.78" stroke="#333a42" stroke-width="0.55"/>
<circle cx="476.40" cy="404.30" r="3.1" fill="#7b8ea3" fill-opacity="0.78" stroke="#333a42" stroke-width="0.55"/>
<line x1="530.20" y1="426.80" x2="530.20" y2="429.00" stroke="#7f7f7f" stroke-width="0.8"/>
<line x1="530.20" y1="350.30" x2="530.20" y2="375.40" stroke="#111" stroke-width="1.1"/>
<line x1="530.20" y1="396.10" x2="530.20" y2="407.50" stroke="#111" stroke-width="1.1"/>
<rect x="508.50" y="375.40" width="43.4" height="20.70" fill="#2a86a6" stroke="#111" stroke-width="1.1"/>
<line x1="508.50" y1="385.60" x2="551.90" y2="385.60" stroke="#000" stroke-width="2.0"/>
<circle cx="530.10" cy="350.30" r="3.1" fill="#7b8ea3" fill-opacity="0.78" stroke="#333a42" stroke-width="0.55"/>
<circle cx="530.10" cy="359.20" r="3.1" fill="#7b8ea3" fill-opacity="0.78" stroke="#333a42" stroke-width="0.55"/>
<circle cx="526.70" cy="368.50" r="3.1" fill="#7b8ea3" fill-opacity="0.78" stroke="#333a42" stroke-width="0.55"/>
<circle cx="533.20" cy="368.50" r="3.1" fill="#7b8ea3" fill-opacity="0.78" stroke="#333a42" stroke-width="0.55"/>
<circle cx="531.60" cy="370.20" r="3.1" fill="#7b8ea3" fill-opacity="0.78" stroke="#333a42" stroke-width="0.55"/>
<circle cx="532.40" cy="373.00" r="3.1" fill="#7b8ea3" fill-opacity="0.78" stroke="#333a42" stroke-width="0.55"/>
<circle cx="530.40" cy="376.60" r="3.1" fill="#7b8ea3" fill-opacity="0.78" stroke="#333a42" stroke-width="0.55"/>
<circle cx="526.70" cy="378.70" r="3.1" fill="#7b8ea3" fill-opacity="0.78" stroke="#333a42" stroke-width="0.55"/>
<circle cx="533.20" cy="379.90" r="3.1" fill="#7b8ea3" fill-opacity="0.78" stroke="#333a42" stroke-width="0.55"/>
<circle cx="530.80" cy="382.30" r="3.1" fill="#7b8ea3" fill-opacity="0.78" stroke="#333a42" stroke-width="0.55"/>
<circle cx="528.40" cy="385.20" r="3.1" fill="#7b8ea3" fill-opacity="0.78" stroke="#333a42" stroke-width="0.55"/>
<circle cx="533.20" cy="385.60" r="3.1" fill="#7b8ea3" fill-opacity="0.78" stroke="#333a42" stroke-width="0.55"/>
<circle cx="530.40" cy="388.00" r="3.1" fill="#7b8ea3" fill-opacity="0.78" stroke="#333a42" stroke-width="0.55"/>
<circle cx="524.30" cy="394.50" r="3.1" fill="#7b8ea3" fill-opacity="0.78" stroke="#333a42" stroke-width="0.55"/>
<circle cx="528.70" cy="394.30" r="3.1" fill="#7b8ea3" fill-opacity="0.78" stroke="#333a42" stroke-width="0.55"/>
<circle cx="536.50" cy="394.10" r="3.1" fill="#7b8ea3" fill-opacity="0.78" stroke="#333a42" stroke-width="0.55"/>
<circle cx="540.10" cy="393.70" r="3.1" fill="#7b8ea3" fill-opacity="0.78" stroke="#333a42" stroke-width="0.55"/>
<circle cx="530.00" cy="397.70" r="3.1" fill="#7b8ea3" fill-opacity="0.78" stroke="#333a42" stroke-width="0.55"/>
<circle cx="533.60" cy="400.20" r="3.1" fill="#7b8ea3" fill-opacity="0.78" stroke="#333a42" stroke-width="0.55"/>
<circle cx="528.40" cy="404.60" r="3.1" fill="#7b8ea3" fill-opacity="0.78" stroke="#333a42" stroke-width="0.55"/>
<circle cx="534.00" cy="405.90" r="3.1" fill="#7b8ea3" fill-opacity="0.78" stroke="#333a42" stroke-width="0.55"/>
<circle cx="530.00" cy="407.50" r="3.1" fill="#7b8ea3" fill-opacity="0.78" stroke="#333a42" stroke-width="0.55"/>
<text x="466.77" y="441.10" font-size="8.8" textLength="19.71" lengthAdjust="spacingAndGlyphs">Non-</text>
<text x="455.45" y="450.70" font-size="8.8" textLength="41.83" lengthAdjust="spacingAndGlyphs">responder</text>
<text x="507.67" y="440.90" font-size="8.8" textLength="44.85" lengthAdjust="spacingAndGlyphs">Responder</text>
<rect x="566.20" y="267.40" width="118.10" height="159.40" fill="none" stroke="#7f7f7f" stroke-width="0.8"/>
<line x1="566.20" y1="283.30" x2="684.30" y2="283.30" stroke="#7f7f7f" stroke-width="0.8"/>
<text x="603.45" y="280.30" font-size="10.1" textLength="47.19" lengthAdjust="spacingAndGlyphs">Favorable</text>
<line x1="566.20" y1="333.20" x2="684.30" y2="333.20" stroke="#666" stroke-width="1.0" stroke-dasharray="4.7,2.4"/>
<text x="643.44" y="314.00" font-size="8.6" textLength="33.04" lengthAdjust="spacingAndGlyphs"><tspan font-style="italic">P</tspan> = 0.85</text>
<line x1="598.40" y1="426.80" x2="598.40" y2="429.00" stroke="#7f7f7f" stroke-width="0.8"/>
<line x1="598.40" y1="379.20" x2="598.40" y2="383.40" stroke="#111" stroke-width="1.1"/>
<line x1="598.40" y1="394.10" x2="598.40" y2="398.50" stroke="#111" stroke-width="1.1"/>
<rect x="576.70" y="383.40" width="43.4" height="10.70" fill="#d95b2a" stroke="#111" stroke-width="1.1"/>
<line x1="576.70" y1="384.80" x2="620.10" y2="384.80" stroke="#000" stroke-width="2.0"/>
<circle cx="598.20" cy="379.20" r="3.1" fill="#7b8ea3" fill-opacity="0.78" stroke="#333a42" stroke-width="0.55"/>
<circle cx="600.50" cy="383.10" r="3.1" fill="#7b8ea3" fill-opacity="0.78" stroke="#333a42" stroke-width="0.55"/>
<circle cx="597.90" cy="384.50" r="3.1" fill="#7b8ea3" fill-opacity="0.78" stroke="#333a42" stroke-width="0.55"/>
<circle cx="597.90" cy="397.10" r="3.1" fill="#7b8ea3" fill-opacity="0.78" stroke="#333a42" stroke-width="0.55"/>
<circle cx="600.50" cy="396.20" r="3.1" fill="#7b8ea3" fill-opacity="0.78" stroke="#333a42" stroke-width="0.55"/>
<circle cx="598.80" cy="398.50" r="3.1" fill="#7b8ea3" fill-opacity="0.78" stroke="#333a42" stroke-width="0.55"/>
<line x1="652.10" y1="426.80" x2="652.10" y2="429.00" stroke="#7f7f7f" stroke-width="0.8"/>
<line x1="652.10" y1="378.70" x2="652.10" y2="381.30" stroke="#111" stroke-width="1.1"/>
<line x1="652.10" y1="395.30" x2="652.10" y2="399.70" stroke="#111" stroke-width="1.1"/>
<rect x="630.40" y="381.30" width="43.4" height="14.00" fill="#2a86a6" stroke="#111" stroke-width="1.1"/>
<line x1="630.40" y1="389.70" x2="673.80" y2="389.70" stroke="#000" stroke-width="2.0"/>
<circle cx="650.50" cy="378.70" r="3.1" fill="#7b8ea3" fill-opacity="0.78" stroke="#333a42" stroke-width="0.55"/>
<circle cx="654.00" cy="378.70" r="3.1" fill="#7b8ea3" fill-opacity="0.78" stroke="#333a42" stroke-width="0.55"/>
<circle cx="651.80" cy="381.30" r="3.1" fill="#7b8ea3" fill-opacity="0.78" stroke="#333a42" stroke-width="0.55"/>
<circle cx="652.30" cy="384.80" r="3.1" fill="#7b8ea3" fill-opacity="0.78" stroke="#333a42" stroke-width="0.55"/>
<circle cx="648.80" cy="394.50" r="3.1" fill="#7b8ea3" fill-opacity="0.78" stroke="#333a42" stroke-width="0.55"/>
<circle cx="652.30" cy="395.30" r="3.1" fill="#7b8ea3" fill-opacity="0.78" stroke="#333a42" stroke-width="0.55"/>
<circle cx="658.40" cy="394.50" r="3.1" fill="#7b8ea3" fill-opacity="0.78" stroke="#333a42" stroke-width="0.55"/>
<circle cx="651.80" cy="399.70" r="3.1" fill="#7b8ea3" fill-opacity="0.78" stroke="#333a42" stroke-width="0.55"/>
<text x="588.67" y="441.10" font-size="8.8" textLength="19.71" lengthAdjust="spacingAndGlyphs">Non-</text>
<text x="577.35" y="450.70" font-size="8.8" textLength="41.83" lengthAdjust="spacingAndGlyphs">responder</text>
<text x="629.57" y="440.90" font-size="8.8" textLength="44.85" lengthAdjust="spacingAndGlyphs">Responder</text>
<line x1="320.20" y1="420.00" x2="322.60" y2="420.00" stroke="#7f7f7f" stroke-width="0.8"/>
<text x="309.88" y="423.00" font-size="8.6" textLength="5.79" lengthAdjust="spacingAndGlyphs" fill="#333">0</text>
<line x1="320.20" y1="376.60" x2="322.60" y2="376.60" stroke="#7f7f7f" stroke-width="0.8"/>
<text x="303.04" y="379.60" font-size="8.6" textLength="12.63" lengthAdjust="spacingAndGlyphs" fill="#333">0.5</text>
<line x1="320.20" y1="333.20" x2="322.60" y2="333.20" stroke="#7f7f7f" stroke-width="0.8"/>
<text x="302.70" y="336.20" font-size="8.6" textLength="12.92" lengthAdjust="spacingAndGlyphs" fill="#333">1.0</text>
<line x1="320.20" y1="289.80" x2="322.60" y2="289.80" stroke="#7f7f7f" stroke-width="0.8"/>
<text x="302.70" y="292.80" font-size="8.6" textLength="12.97" lengthAdjust="spacingAndGlyphs" fill="#333">1.5</text>
<text x="463.82" y="469.80" font-size="10" textLength="79.44" lengthAdjust="spacingAndGlyphs">In vivo response</text>
<text x="292.15" y="388.85" font-size="10.0" textLength="69.03" lengthAdjust="spacingAndGlyphs" transform="rotate(-90 292.20 388.85)">Viability (VUC)</text>
<text x="-0.38" y="509.60" font-size="14" textLength="10.40" lengthAdjust="spacingAndGlyphs" fill="#000" font-weight="bold" stroke="#000" stroke-width="0.6" stroke-linejoin="round">d</text>
<text x="283.26" y="12.70" font-size="14.5" textLength="8.83" lengthAdjust="spacingAndGlyphs" fill="#000" font-weight="bold" stroke="#000" stroke-width="0.6" stroke-linejoin="round">c</text>
<text x="99.14" y="511.10" font-size="10.1" textLength="50.70" lengthAdjust="spacingAndGlyphs">Vincristine</text>
<line x1="46.80" y1="521.80" x2="46.80" y2="755.40" stroke="#7f7f7f" stroke-width="0.8"/>
<line x1="46.80" y1="755.40" x2="201.40" y2="755.40" stroke="#7f7f7f" stroke-width="0.8"/>
<line x1="43.70" y1="744.40" x2="46.80" y2="744.40" stroke="#7f7f7f" stroke-width="0.8"/>
<text x="33.58" y="747.40" font-size="8.6" textLength="5.79" lengthAdjust="spacingAndGlyphs" fill="#333">0</text>
<line x1="43.70" y1="691.48" x2="46.80" y2="691.48" stroke="#7f7f7f" stroke-width="0.8"/>
<text x="20.51" y="694.48" font-size="8.6" textLength="18.89" lengthAdjust="spacingAndGlyphs" fill="#333">0.25</text>
<line x1="43.70" y1="638.55" x2="46.80" y2="638.55" stroke="#7f7f7f" stroke-width="0.8"/>
<text x="19.59" y="641.55" font-size="8.6" textLength="19.78" lengthAdjust="spacingAndGlyphs" fill="#333">0.50</text>
<line x1="43.70" y1="585.62" x2="46.80" y2="585.62" stroke="#7f7f7f" stroke-width="0.8"/>
<text x="20.82" y="588.62" font-size="8.6" textLength="18.58" lengthAdjust="spacingAndGlyphs" fill="#333">0.75</text>
<line x1="43.70" y1="532.70" x2="46.80" y2="532.70" stroke="#7f7f7f" stroke-width="0.8"/>
<text x="20.47" y="535.70" font-size="8.6" textLength="18.88" lengthAdjust="spacingAndGlyphs" fill="#333">1.00</text>
<line x1="53.60" y1="755.40" x2="53.60" y2="757.70" stroke="#7f7f7f" stroke-width="0.8"/>
<text x="50.80" y="769.00" font-size="8.6" textLength="5.56" lengthAdjust="spacingAndGlyphs" fill="#333">0</text>
<line x1="81.90" y1="755.40" x2="81.90" y2="757.70" stroke="#7f7f7f" stroke-width="0.8"/>
<text x="79.75" y="769.00" font-size="8.6" textLength="4.09" lengthAdjust="spacingAndGlyphs" fill="#333">1</text>
<line x1="110.20" y1="755.40" x2="110.20" y2="757.70" stroke="#7f7f7f" stroke-width="0.8"/>
<text x="107.27" y="769.00" font-size="8.6" textLength="5.87" lengthAdjust="spacingAndGlyphs" fill="#333">2</text>
<line x1="138.50" y1="755.40" x2="138.50" y2="757.70" stroke="#7f7f7f" stroke-width="0.8"/>
<text x="135.75" y="769.00" font-size="8.6" textLength="5.56" lengthAdjust="spacingAndGlyphs" fill="#333">3</text>
<line x1="166.80" y1="755.40" x2="166.80" y2="757.70" stroke="#7f7f7f" stroke-width="0.8"/>
<text x="164.21" y="769.00" font-size="8.6" textLength="5.23" lengthAdjust="spacingAndGlyphs" fill="#333">4</text>
<line x1="195.10" y1="755.40" x2="195.10" y2="757.70" stroke="#7f7f7f" stroke-width="0.8"/>
<text x="192.30" y="769.00" font-size="8.6" textLength="5.62" lengthAdjust="spacingAndGlyphs" fill="#333">5</text>
<text x="95.19" y="785.80" font-size="10.2" textLength="59.10" lengthAdjust="spacingAndGlyphs">Time (years)</text>
<text x="8.25" y="674.30" font-size="10.3" textLength="72.47" lengthAdjust="spacingAndGlyphs" transform="rotate(-90 9.10 674.30)">EFS probability</text>
<text x="139.53" y="578.50" font-size="8.6" textLength="33.64" lengthAdjust="spacingAndGlyphs"><tspan font-style="italic">P</tspan> = 0.02</text>
<path d="M55.10,540.00 55.30,550.00 55.60,562.00 56.00,572.00 56.50,581.00 57.30,590.00 57.50,598.50 58.40,607.00 59.20,613.70 60.50,618.00 61.30,622.20 62.60,626.40 63.90,629.80 65.60,631.50 67.10,632.00 67.10,638.30 67.60,638.30 67.60,645.50 72.30,645.50 72.30,652.90 74.90,652.90 74.90,657.00 76.60,657.00 76.60,667.00 79.00,667.00 79.00,668.00 81.60,668.00 81.60,673.00 83.40,673.00 83.40,676.00 84.40,676.00 84.40,678.00 87.00,678.00 87.00,681.00 96.00,681.00 96.00,685.30 97.50,685.30 97.50,689.50 123.30,689.50 123.30,693.10 132.00,693.10 132.00,697.30 150.90,697.30 150.90,701.80 185.80,701.80 185.80,707.10 195.00,707.10" fill="none" stroke="#1f77b8" stroke-width="1.5"/>
<line x1="135.10" y1="695.10" x2="135.10" y2="699.50" stroke="#1f77b8" stroke-width="0.8"/>
<line x1="133.50" y1="697.30" x2="136.70" y2="697.30" stroke="#1f77b8" stroke-width="0.8"/>
<line x1="140.40" y1="695.10" x2="140.40" y2="699.50" stroke="#1f77b8" stroke-width="0.8"/>
<line x1="138.80" y1="697.30" x2="142.00" y2="697.30" stroke="#1f77b8" stroke-width="0.8"/>
<line x1="166.60" y1="699.60" x2="166.60" y2="704.00" stroke="#1f77b8" stroke-width="0.8"/>
<line x1="165.00" y1="701.80" x2="168.20" y2="701.80" stroke="#1f77b8" stroke-width="0.8"/>
<line x1="195.00" y1="704.90" x2="195.00" y2="709.30" stroke="#1f77b8" stroke-width="0.8"/>
<line x1="193.40" y1="707.10" x2="196.60" y2="707.10" stroke="#1f77b8" stroke-width="0.8"/>
<line x1="65.50" y1="628.80" x2="65.50" y2="633.20" stroke="#1f77b8" stroke-width="0.8"/>
<line x1="63.90" y1="631.00" x2="67.10" y2="631.00" stroke="#1f77b8" stroke-width="0.8"/>
<line x1="84.40" y1="675.80" x2="84.40" y2="680.20" stroke="#1f77b8" stroke-width="0.8"/>
<line x1="82.80" y1="678.00" x2="86.00" y2="678.00" stroke="#1f77b8" stroke-width="0.8"/>
<path d="M54.20,532.30 55.30,532.30 55.30,539.00 57.00,539.00 57.00,548.00 57.40,548.00 57.40,560.00 58.60,560.00 58.60,567.00 61.00,567.00 61.00,573.00 65.00,573.00 65.00,579.50 69.40,579.50 69.40,590.00 70.20,590.00 70.20,601.00 71.60,601.00 71.60,609.00 77.00,609.00 77.00,623.00 81.60,623.00 81.60,638.50 83.00,638.50 83.00,646.00 138.20,646.00 138.20,655.30 195.00,655.30" fill="none" stroke="#c4443a" stroke-width="1.5"/>
<line x1="68.60" y1="577.30" x2="68.60" y2="581.70" stroke="#c4443a" stroke-width="0.8"/>
<line x1="67.00" y1="579.50" x2="70.20" y2="579.50" stroke="#c4443a" stroke-width="0.8"/>
<line x1="81.20" y1="620.80" x2="81.20" y2="625.20" stroke="#c4443a" stroke-width="0.8"/>
<line x1="79.60" y1="623.00" x2="82.80" y2="623.00" stroke="#c4443a" stroke-width="0.8"/>
<line x1="126.70" y1="643.80" x2="126.70" y2="648.20" stroke="#c4443a" stroke-width="0.8"/>
<line x1="125.10" y1="646.00" x2="128.30" y2="646.00" stroke="#c4443a" stroke-width="0.8"/>
<line x1="158.70" y1="653.10" x2="158.70" y2="657.50" stroke="#c4443a" stroke-width="0.8"/>
<line x1="157.10" y1="655.30" x2="160.30" y2="655.30" stroke="#c4443a" stroke-width="0.8"/>
<line x1="181.90" y1="653.10" x2="181.90" y2="657.50" stroke="#c4443a" stroke-width="0.8"/>
<line x1="180.30" y1="655.30" x2="183.50" y2="655.30" stroke="#c4443a" stroke-width="0.8"/>
<line x1="195.00" y1="653.10" x2="195.00" y2="657.50" stroke="#c4443a" stroke-width="0.8"/>
<line x1="193.40" y1="655.30" x2="196.60" y2="655.30" stroke="#c4443a" stroke-width="0.8"/>
<line x1="53.60" y1="638.55" x2="83.30" y2="638.55" stroke="#111" stroke-width="0.9" stroke-dasharray="3,2.8"/>
<line x1="67.60" y1="744.40" x2="67.60" y2="638.55" stroke="#111" stroke-width="0.9" stroke-dasharray="3,2.8"/>
<line x1="83.30" y1="744.40" x2="83.30" y2="638.55" stroke="#111" stroke-width="0.9" stroke-dasharray="3,2.8"/>
<text x="276.32" y="511.10" font-size="10.1" textLength="128.24" lengthAdjust="spacingAndGlyphs">Daunorubicin + cytarabine</text>
<line x1="263.10" y1="521.80" x2="263.10" y2="755.40" stroke="#7f7f7f" stroke-width="0.8"/>
<line x1="263.10" y1="755.40" x2="417.60" y2="755.40" stroke="#7f7f7f" stroke-width="0.8"/>
<line x1="260.00" y1="744.40" x2="263.10" y2="744.40" stroke="#7f7f7f" stroke-width="0.8"/>
<text x="249.88" y="747.40" font-size="8.6" textLength="5.79" lengthAdjust="spacingAndGlyphs" fill="#333">0</text>
<line x1="260.00" y1="691.48" x2="263.10" y2="691.48" stroke="#7f7f7f" stroke-width="0.8"/>
<text x="236.81" y="694.48" font-size="8.6" textLength="18.89" lengthAdjust="spacingAndGlyphs" fill="#333">0.25</text>
<line x1="260.00" y1="638.55" x2="263.10" y2="638.55" stroke="#7f7f7f" stroke-width="0.8"/>
<text x="235.89" y="641.55" font-size="8.6" textLength="19.78" lengthAdjust="spacingAndGlyphs" fill="#333">0.50</text>
<line x1="260.00" y1="585.62" x2="263.10" y2="585.62" stroke="#7f7f7f" stroke-width="0.8"/>
<text x="237.12" y="588.62" font-size="8.6" textLength="18.58" lengthAdjust="spacingAndGlyphs" fill="#333">0.75</text>
<line x1="260.00" y1="532.70" x2="263.10" y2="532.70" stroke="#7f7f7f" stroke-width="0.8"/>
<text x="236.77" y="535.70" font-size="8.6" textLength="18.88" lengthAdjust="spacingAndGlyphs" fill="#333">1.00</text>
<line x1="269.80" y1="755.40" x2="269.80" y2="757.70" stroke="#7f7f7f" stroke-width="0.8"/>
<text x="267.00" y="769.00" font-size="8.6" textLength="5.56" lengthAdjust="spacingAndGlyphs" fill="#333">0</text>
<line x1="298.10" y1="755.40" x2="298.10" y2="757.70" stroke="#7f7f7f" stroke-width="0.8"/>
<text x="295.95" y="769.00" font-size="8.6" textLength="4.09" lengthAdjust="spacingAndGlyphs" fill="#333">1</text>
<line x1="326.40" y1="755.40" x2="326.40" y2="757.70" stroke="#7f7f7f" stroke-width="0.8"/>
<text x="323.47" y="769.00" font-size="8.6" textLength="5.87" lengthAdjust="spacingAndGlyphs" fill="#333">2</text>
<line x1="354.70" y1="755.40" x2="354.70" y2="757.70" stroke="#7f7f7f" stroke-width="0.8"/>
<text x="351.95" y="769.00" font-size="8.6" textLength="5.56" lengthAdjust="spacingAndGlyphs" fill="#333">3</text>
<line x1="383.00" y1="755.40" x2="383.00" y2="757.70" stroke="#7f7f7f" stroke-width="0.8"/>
<text x="380.41" y="769.00" font-size="8.6" textLength="5.23" lengthAdjust="spacingAndGlyphs" fill="#333">4</text>
<line x1="411.30" y1="755.40" x2="411.30" y2="757.70" stroke="#7f7f7f" stroke-width="0.8"/>
<text x="408.50" y="769.00" font-size="8.6" textLength="5.62" lengthAdjust="spacingAndGlyphs" fill="#333">5</text>
<text x="311.49" y="785.80" font-size="10.2" textLength="59.10" lengthAdjust="spacingAndGlyphs">Time (years)</text>
<text x="225.15" y="674.30" font-size="10.3" textLength="72.47" lengthAdjust="spacingAndGlyphs" transform="rotate(-90 226.00 674.30)">EFS probability</text>
<text x="355.83" y="578.50" font-size="8.6" textLength="33.64" lengthAdjust="spacingAndGlyphs"><tspan font-style="italic">P</tspan> = 0.02</text>
<path d="M271.50,543.50 271.90,552.00 272.10,563.80 272.80,577.40 273.50,590.10 273.80,600.00 274.50,605.00 274.90,610.90 277.10,613.60 278.20,620.70 280.40,627.80 281.40,632.70 283.30,634.90 283.60,638.70 284.20,643.10 286.40,645.80 287.40,649.60 289.60,650.70 290.70,654.50 292.40,657.20 292.90,665.40 293.40,672.00 296.70,672.50 297.80,676.90 298.90,680.70 299.70,684.20 312.50,684.20 312.50,688.80 355.10,688.80 355.10,693.60 366.40,693.60 366.40,698.30 401.90,698.30 401.90,704.10 411.30,704.10" fill="none" stroke="#1f77b8" stroke-width="1.5"/>
<line x1="342.50" y1="686.60" x2="342.50" y2="691.00" stroke="#1f77b8" stroke-width="0.8"/>
<line x1="340.90" y1="688.80" x2="344.10" y2="688.80" stroke="#1f77b8" stroke-width="0.8"/>
<line x1="382.70" y1="696.10" x2="382.70" y2="700.50" stroke="#1f77b8" stroke-width="0.8"/>
<line x1="381.10" y1="698.30" x2="384.30" y2="698.30" stroke="#1f77b8" stroke-width="0.8"/>
<line x1="411.30" y1="701.90" x2="411.30" y2="706.30" stroke="#1f77b8" stroke-width="0.8"/>
<line x1="409.70" y1="704.10" x2="412.90" y2="704.10" stroke="#1f77b8" stroke-width="0.8"/>
<line x1="283.40" y1="636.50" x2="283.40" y2="640.90" stroke="#1f77b8" stroke-width="0.8"/>
<line x1="281.80" y1="638.70" x2="285.00" y2="638.70" stroke="#1f77b8" stroke-width="0.8"/>
<line x1="296.80" y1="673.30" x2="296.80" y2="677.70" stroke="#1f77b8" stroke-width="0.8"/>
<line x1="295.20" y1="675.50" x2="298.40" y2="675.50" stroke="#1f77b8" stroke-width="0.8"/>
<path d="M271.10,532.00 271.10,543.90 273.50,543.90 273.60,550.30 274.20,557.00 274.50,563.00 274.90,568.50 276.00,568.50 276.20,574.40 276.60,580.80 284.20,580.80 284.20,586.60 285.90,586.60 285.90,599.70 288.20,599.70 288.20,611.40 293.40,611.40 293.40,618.20 297.30,618.20 297.80,625.10 299.40,630.50 300.50,637.30 303.30,637.30 303.30,643.70 313.50,643.70 313.50,650.20 339.90,650.20 339.90,656.80 348.50,656.80 348.50,664.10 411.30,664.10" fill="none" stroke="#c4443a" stroke-width="1.5"/>
<line x1="304.70" y1="641.50" x2="304.70" y2="645.90" stroke="#c4443a" stroke-width="0.8"/>
<line x1="303.10" y1="643.70" x2="306.30" y2="643.70" stroke="#c4443a" stroke-width="0.8"/>
<line x1="342.50" y1="654.60" x2="342.50" y2="659.00" stroke="#c4443a" stroke-width="0.8"/>
<line x1="340.90" y1="656.80" x2="344.10" y2="656.80" stroke="#c4443a" stroke-width="0.8"/>
<line x1="351.20" y1="661.90" x2="351.20" y2="666.30" stroke="#c4443a" stroke-width="0.8"/>
<line x1="349.60" y1="664.10" x2="352.80" y2="664.10" stroke="#c4443a" stroke-width="0.8"/>
<line x1="353.80" y1="661.90" x2="353.80" y2="666.30" stroke="#c4443a" stroke-width="0.8"/>
<line x1="352.20" y1="664.10" x2="355.40" y2="664.10" stroke="#c4443a" stroke-width="0.8"/>
<line x1="374.30" y1="661.90" x2="374.30" y2="666.30" stroke="#c4443a" stroke-width="0.8"/>
<line x1="372.70" y1="664.10" x2="375.90" y2="664.10" stroke="#c4443a" stroke-width="0.8"/>
<line x1="397.90" y1="661.90" x2="397.90" y2="666.30" stroke="#c4443a" stroke-width="0.8"/>
<line x1="396.30" y1="664.10" x2="399.50" y2="664.10" stroke="#c4443a" stroke-width="0.8"/>
<line x1="411.30" y1="661.90" x2="411.30" y2="666.30" stroke="#c4443a" stroke-width="0.8"/>
<line x1="409.70" y1="664.10" x2="412.90" y2="664.10" stroke="#c4443a" stroke-width="0.8"/>
<line x1="269.80" y1="638.55" x2="303.60" y2="638.55" stroke="#111" stroke-width="0.9" stroke-dasharray="3,2.8"/>
<line x1="283.40" y1="744.40" x2="283.40" y2="638.55" stroke="#111" stroke-width="0.9" stroke-dasharray="3,2.8"/>
<line x1="303.60" y1="744.40" x2="303.60" y2="638.55" stroke="#111" stroke-width="0.9" stroke-dasharray="3,2.8"/>
<text x="120.07" y="813.60" font-size="8.6" textLength="71.13" lengthAdjust="spacingAndGlyphs">Ex vivo sensitivity</text>
<line x1="200.70" y1="811.20" x2="209.80" y2="811.20" stroke="#1f77b8" stroke-width="1.4"/>
<line x1="205.30" y1="809.20" x2="205.30" y2="813.20" stroke="#1f77b8" stroke-width="0.8"/>
<text x="213.69" y="814.90" font-size="9.2" textLength="55.67" lengthAdjust="spacingAndGlyphs">Less sensitive</text>
<line x1="280.40" y1="811.20" x2="290.00" y2="811.20" stroke="#c4443a" stroke-width="1.4"/>
<line x1="285.20" y1="809.20" x2="285.20" y2="813.20" stroke="#c4443a" stroke-width="0.8"/>
<text x="294.09" y="814.90" font-size="9.2" textLength="36.80" lengthAdjust="spacingAndGlyphs">Sensitive</text>
<text x="442.19" y="509.90" font-size="14.5" textLength="9.86" lengthAdjust="spacingAndGlyphs" fill="#000" font-weight="bold" stroke="#000" stroke-width="0.6" stroke-linejoin="round">e</text>
<text x="557.97" y="511.20" font-size="9.8" textLength="78.46" lengthAdjust="spacingAndGlyphs">EFS ~ vincristine</text>
<rect x="511.60" y="516.60" width="172.30" height="108.50" fill="none" stroke="#7f7f7f" stroke-width="0.8"/>
<line x1="560.60" y1="516.60" x2="560.60" y2="625.10" stroke="#555" stroke-width="0.9" stroke-dasharray="4.1,2.5"/>
<line x1="533.70" y1="625.10" x2="533.70" y2="627.50" stroke="#7f7f7f" stroke-width="0.8"/>
<text x="530.78" y="639.40" font-size="8.6" textLength="5.79" lengthAdjust="spacingAndGlyphs" fill="#333">0</text>
<line x1="587.50" y1="625.10" x2="587.50" y2="627.50" stroke="#7f7f7f" stroke-width="0.8"/>
<text x="584.45" y="639.40" font-size="8.6" textLength="6.11" lengthAdjust="spacingAndGlyphs" fill="#333">2</text>
<line x1="641.30" y1="625.10" x2="641.30" y2="627.50" stroke="#7f7f7f" stroke-width="0.8"/>
<text x="638.60" y="639.40" font-size="8.6" textLength="5.45" lengthAdjust="spacingAndGlyphs" fill="#333">4</text>
<text x="568.64" y="656.60" font-size="10.2" textLength="58.82" lengthAdjust="spacingAndGlyphs">Hazard ratio</text>
<line x1="508.80" y1="532.50" x2="511.60" y2="532.50" stroke="#7f7f7f" stroke-width="0.8"/>
<line x1="563.02" y1="532.50" x2="616.28" y2="532.50" stroke="#333" stroke-width="1.0"/>
<circle cx="582.93" cy="532.50" r="2.4" fill="#000"/>
<text x="567.14" y="528.50" font-size="8.8" textLength="32.83" lengthAdjust="spacingAndGlyphs"><tspan font-style="italic">P</tspan> = 0.02</text>
<text x="469.33" y="529.20" font-size="10.3" textLength="34.94" lengthAdjust="spacingAndGlyphs">Ex vivo</text>
<text x="454.29" y="541.00" font-size="10.3" textLength="49.98" lengthAdjust="spacingAndGlyphs">resistance</text>
<line x1="508.80" y1="558.50" x2="511.60" y2="558.50" stroke="#7f7f7f" stroke-width="0.8"/>
<line x1="563.02" y1="558.50" x2="676.81" y2="558.50" stroke="#333" stroke-width="1.0"/>
<circle cx="598.53" cy="558.50" r="2.4" fill="#000"/>
<text x="582.73" y="554.50" font-size="8.8" textLength="33.65" lengthAdjust="spacingAndGlyphs"><tspan font-style="italic">P</tspan> = 0.03</text>
<text x="465.50" y="562.00" font-size="10.3" textLength="38.76" lengthAdjust="spacingAndGlyphs">Adverse</text>
<line x1="508.80" y1="584.10" x2="511.60" y2="584.10" stroke="#7f7f7f" stroke-width="0.8"/>
<line x1="553.07" y1="584.10" x2="627.85" y2="584.10" stroke="#aaa" stroke-width="1.0"/>
<circle cx="575.93" cy="584.10" r="2.4" fill="#000"/>
<text x="562.44" y="580.10" font-size="8.8" textLength="27.81" lengthAdjust="spacingAndGlyphs"><tspan font-style="italic">P</tspan> = 0.2</text>
<text x="442.20" y="588.10" font-size="10.3" textLength="62.04" lengthAdjust="spacingAndGlyphs">Intermediate</text>
<line x1="508.80" y1="609.70" x2="511.60" y2="609.70" stroke="#7f7f7f" stroke-width="0.8"/>
<circle cx="560.60" cy="609.70" r="2.4" fill="#000"/>
<text x="454.95" y="607.60" font-size="10.3" textLength="49.27" lengthAdjust="spacingAndGlyphs">Reference</text>
<text x="451.53" y="619.10" font-size="10.3" textLength="52.99" lengthAdjust="spacingAndGlyphs">(favorable)</text>
<text x="519.85" y="677.90" font-size="9.8" textLength="154.07" lengthAdjust="spacingAndGlyphs">EFS ~ daunorubicin + cytarabine</text>
<rect x="511.60" y="684.20" width="172.30" height="107.80" fill="none" stroke="#7f7f7f" stroke-width="0.8"/>
<line x1="561.90" y1="684.20" x2="561.90" y2="792.00" stroke="#9a9a9a" stroke-width="0.9" stroke-dasharray="4.1,2.5"/>
<line x1="533.70" y1="792.00" x2="533.70" y2="794.40" stroke="#7f7f7f" stroke-width="0.8"/>
<text x="530.78" y="806.30" font-size="8.6" textLength="5.79" lengthAdjust="spacingAndGlyphs" fill="#333">0</text>
<line x1="561.90" y1="792.00" x2="561.90" y2="794.40" stroke="#7f7f7f" stroke-width="0.8"/>
<text x="559.75" y="806.30" font-size="8.6" textLength="4.09" lengthAdjust="spacingAndGlyphs" fill="#333">1</text>
<line x1="590.10" y1="792.00" x2="590.10" y2="794.40" stroke="#7f7f7f" stroke-width="0.8"/>
<text x="587.05" y="806.30" font-size="8.6" textLength="6.11" lengthAdjust="spacingAndGlyphs" fill="#333">2</text>
<line x1="618.30" y1="792.00" x2="618.30" y2="794.40" stroke="#7f7f7f" stroke-width="0.8"/>
<text x="615.44" y="806.30" font-size="8.6" textLength="5.79" lengthAdjust="spacingAndGlyphs" fill="#333">3</text>
<line x1="646.50" y1="792.00" x2="646.50" y2="794.40" stroke="#7f7f7f" stroke-width="0.8"/>
<text x="643.80" y="806.30" font-size="8.6" textLength="5.45" lengthAdjust="spacingAndGlyphs" fill="#333">4</text>
<line x1="674.70" y1="792.00" x2="674.70" y2="794.40" stroke="#7f7f7f" stroke-width="0.8"/>
<text x="671.78" y="806.30" font-size="8.6" textLength="5.85" lengthAdjust="spacingAndGlyphs" fill="#333">5</text>
<text x="568.64" y="823.50" font-size="10.2" textLength="58.82" lengthAdjust="spacingAndGlyphs">Hazard ratio</text>
<line x1="508.80" y1="699.40" x2="511.60" y2="699.40" stroke="#7f7f7f" stroke-width="0.8"/>
<line x1="563.31" y1="699.40" x2="605.61" y2="699.40" stroke="#666" stroke-width="1.0"/>
<circle cx="579.38" cy="699.40" r="2.4" fill="#000"/>
<text x="562.12" y="695.40" font-size="8.8" textLength="35.04" lengthAdjust="spacingAndGlyphs"><tspan font-style="italic">P</tspan> = 0.04</text>
<text x="469.33" y="696.30" font-size="10.3" textLength="34.94" lengthAdjust="spacingAndGlyphs">Ex vivo</text>
<text x="454.29" y="708.10" font-size="10.3" textLength="49.98" lengthAdjust="spacingAndGlyphs">resistance</text>
<line x1="508.80" y1="725.40" x2="511.60" y2="725.40" stroke="#7f7f7f" stroke-width="0.8"/>
<line x1="563.31" y1="725.40" x2="677.52" y2="725.40" stroke="#444" stroke-width="1.0"/>
<circle cx="598.56" cy="725.40" r="2.4" fill="#000"/>
<text x="582.03" y="721.40" font-size="8.8" textLength="33.52" lengthAdjust="spacingAndGlyphs"><tspan font-style="italic">P</tspan> = 0.04</text>
<text x="465.50" y="729.20" font-size="10.3" textLength="38.76" lengthAdjust="spacingAndGlyphs">Adverse</text>
<line x1="508.80" y1="751.10" x2="511.60" y2="751.10" stroke="#7f7f7f" stroke-width="0.8"/>
<line x1="553.44" y1="751.10" x2="627.61" y2="751.10" stroke="#888" stroke-width="1.0"/>
<circle cx="576.28" cy="751.10" r="2.4" fill="#000"/>
<text x="563.14" y="747.10" font-size="8.8" textLength="27.42" lengthAdjust="spacingAndGlyphs"><tspan font-style="italic">P</tspan> = 0.3</text>
<text x="442.20" y="755.40" font-size="10.3" textLength="62.04" lengthAdjust="spacingAndGlyphs">Intermediate</text>
<line x1="508.80" y1="776.70" x2="511.60" y2="776.70" stroke="#7f7f7f" stroke-width="0.8"/>
<circle cx="561.90" cy="776.70" r="2.4" fill="#000"/>
<text x="454.95" y="774.50" font-size="10.3" textLength="49.27" lengthAdjust="spacingAndGlyphs">Reference</text>
<text x="451.53" y="787.00" font-size="10.3" textLength="52.99" lengthAdjust="spacingAndGlyphs">(favorable)</text>
</svg></body></html>
